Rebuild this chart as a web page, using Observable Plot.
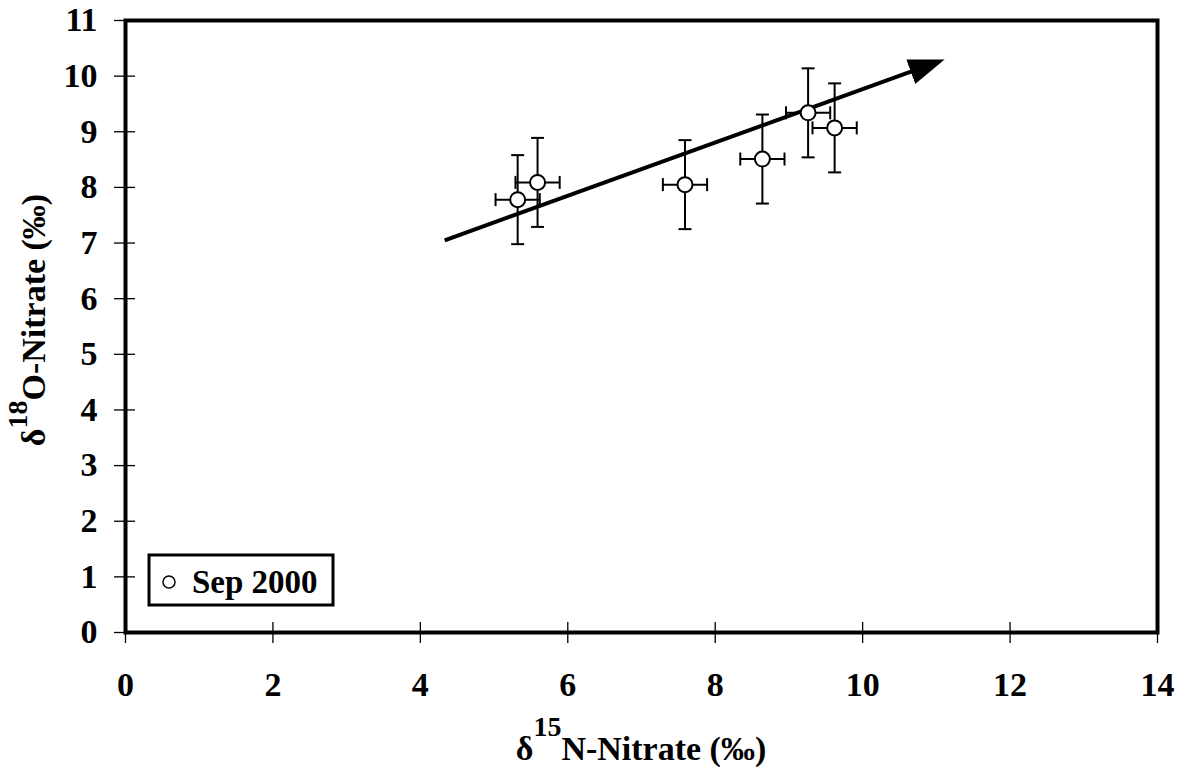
<!DOCTYPE html>
<html>
<head>
<meta charset="utf-8">
<script src="https://cdn.jsdelivr.net/npm/d3@7"></script>
<script src="https://cdn.jsdelivr.net/npm/@observablehq/plot@0.6"></script>
<style>
  html, body { margin: 0; padding: 0; background: #fff; }
  svg { display: block; }
</style>
</head>
<body>
<div id="chart"></div>
<script>
// ---- data ----
const xVals = [5.32, 5.59, 7.59, 8.64, 9.26, 9.62];   // δ15N-Nitrate (‰)
const yVals = [7.78, 8.09, 8.05, 8.51, 9.34, 9.07];   // δ18O-Nitrate (‰)
const xErr  = [0.30, 0.30, 0.30, 0.30, 0.30, 0.30];
const yErr  = [0.80, 0.80, 0.80, 0.80, 0.80, 0.80];
const arrowX = [4.33, 11.01];
const arrowY = [7.05, 10.25];
const xTicks = [0, 2, 4, 6, 8, 10, 12, 14];
const yTicks = [0, 1, 2, 3, 4, 5, 6, 7, 8, 9, 10, 11];
const seriesName = "Sep 2000";
const xTitle = ["δ", "15", "N-Nitrate (‰)"];
const yTitle = ["δ", "18", "O-Nitrate (‰)"];

// ---- layout ----
const W = 1187, H = 769;
const mL = 125, mR = 30, mT = 20, mB = 137;
const innerW = W - mL - mR, innerH = H - mT - mB;
const font = "'Liberation Serif', 'Times New Roman', serif";

const idx = d3.range(xVals.length);
const caps = idx.flatMap(i => [
  {x: xVals[i], y: yVals[i] + yErr[i], t: "h"},
  {x: xVals[i], y: yVals[i] - yErr[i], t: "h"},
  {x: xVals[i] - xErr[i], y: yVals[i], t: "v"},
  {x: xVals[i] + xErr[i], y: yVals[i], t: "v"}
]);
const hcap = {draw(ctx, size) { const r = Math.sqrt(size / Math.PI); ctx.moveTo(-r, 0); ctx.lineTo(r, 0); }};
const vcap = {draw(ctx, size) { const r = Math.sqrt(size / Math.PI); ctx.moveTo(0, -r); ctx.lineTo(0, r); }};

const triMarker = (color) => {
  const m = d3.create("svg:marker")
    .attr("viewBox", "0 -13 36 26")
    .attr("refX", 28).attr("refY", 0)
    .attr("markerWidth", 36).attr("markerHeight", 26)
    .attr("markerUnits", "userSpaceOnUse")
    .attr("orient", "auto");
  m.append("path").attr("d", "M0,-13L36,0L0,13Z").attr("fill", color).attr("stroke", "none");
  return m.node();
};

const arrowData = [{x1: arrowX[0], y1: arrowY[0], x2: arrowX[1], y2: arrowY[1]}];

const chart = Plot.plot({
  width: W, height: H,
  marginLeft: mL, marginRight: mR, marginTop: mT, marginBottom: mB,
  x: {domain: [0, 14]},
  y: {domain: [0, 11]},
  style: {fontFamily: font, fontWeight: "bold", fontSize: "34px", color: "black", background: "white"},
  marks: [
    // crossing tick marks
    Plot.ruleX(xTicks, {x: d => d, insetTop: innerH - 10, insetBottom: -11, stroke: "black", strokeWidth: 1.3}),
    Plot.ruleY(yTicks, {y: d => d, insetLeft: -11, insetRight: innerW - 10, stroke: "black", strokeWidth: 1.3}),
    Plot.axisX({ticks: xTicks, tickSize: 0, tickPadding: 39, label: null}),
    Plot.axisY({ticks: yTicks, tickSize: 0, tickPadding: 28, label: null}),
    // arrow
    Plot.link(arrowData, {x1: "x1", y1: "y1", x2: "x2", y2: "y2", stroke: "black", strokeWidth: 4, markerEnd: triMarker}),
    // error bars
    Plot.ruleX(idx, {x: i => xVals[i], y1: i => yVals[i] - yErr[i], y2: i => yVals[i] + yErr[i], stroke: "black", strokeWidth: 2}),
    Plot.ruleY(idx, {y: i => yVals[i], x1: i => xVals[i] - xErr[i], x2: i => xVals[i] + xErr[i], stroke: "black", strokeWidth: 2}),
    Plot.dot(caps.filter(d => d.t === "h"), {x: "x", y: "y", symbol: hcap, r: 6.5, fill: "none", stroke: "black", strokeWidth: 2}),
    Plot.dot(caps.filter(d => d.t === "v"), {x: "x", y: "y", symbol: vcap, r: 6.5, fill: "none", stroke: "black", strokeWidth: 2}),
    // points
    Plot.dot(idx, {x: i => xVals[i], y: i => yVals[i], r: 7.5, fill: "white", stroke: "black", strokeWidth: 2}),
    Plot.frame({stroke: "black", strokeWidth: 4})
  ]
});

const svg = d3.select(chart);

// axis titles with superscripts
function title(g, parts, size, supSize, rise) {
  const t = g.append("text")
    .attr("text-anchor", "middle")
    .attr("font-family", font).attr("font-weight", "bold").attr("font-size", size)
    .attr("fill", "black");
  t.append("tspan").text(parts[0]);
  t.append("tspan").attr("font-size", supSize).attr("dy", -rise).text(parts[1]);
  t.append("tspan").attr("dy", rise).text(parts[2]);
  return t;
}
title(svg.append("g").attr("transform", `translate(${mL + innerW / 2},760)`), xTitle, 34, 28, 24);
title(svg.append("g").attr("transform", `translate(45,320) rotate(-90)`), yTitle, 34, 28, 18);

// legend
const lg = svg.append("g");
lg.append("rect").attr("x", 149).attr("y", 555).attr("width", 184).attr("height", 50)
  .attr("fill", "white").attr("stroke", "black").attr("stroke-width", 3);
lg.append("circle").attr("cx", 169).attr("cy", 582).attr("r", 6)
  .attr("fill", "white").attr("stroke", "black").attr("stroke-width", 1.5);
lg.append("text").attr("x", 192).attr("y", 593).attr("text-anchor", "start")
  .attr("font-family", font).attr("font-weight", "bold").attr("font-size", 33)
  .attr("fill", "black").text(seriesName);

document.getElementById("chart").appendChild(chart);
</script>
</body>
</html>
